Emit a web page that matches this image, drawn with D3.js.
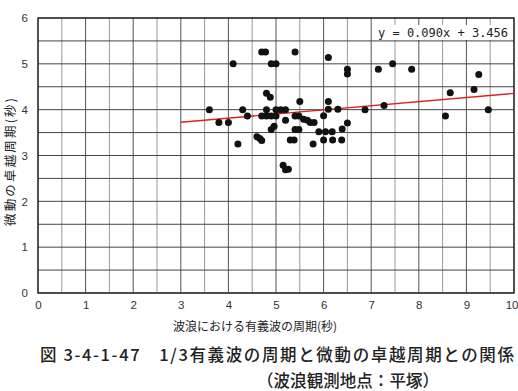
<!DOCTYPE html>
<html><head><meta charset="utf-8">
<script src="https://cdn.jsdelivr.net/npm/d3@7"></script>
<style>
body{margin:0;background:#fff;}
svg{display:block;}
.tick text{font-family:"Liberation Sans",Arial,sans-serif;font-size:11.5px;fill:#333;}
</style></head>
<body><svg id="c" width="518" height="391"></svg>
<script>
const xVals = [3.6,3.8,4.0,4.1,4.2,4.3,4.4,4.6,4.66,4.7,4.7,4.78,4.8,4.88,4.9,5.0,4.7,4.8,4.9,5.0,4.8,5.0,5.1,5.2,4.9,4.96,5.2,5.15,5.2,5.26,5.3,5.38,5.4,5.5,5.4,5.48,5.58,5.66,5.72,5.8,5.4,5.48,5.78,5.9,6.04,6.18,6.0,6.19,6.38,6.0,6.1,6.1,6.3,6.1,6.5,6.5,6.5,6.39,6.87,7.15,7.45,7.85,7.27,8.56,8.66,9.16,9.26,9.46];
const yVals = [4.0,3.72,3.72,5.0,3.25,4.0,3.86,3.41,3.37,3.33,5.26,5.26,4.36,4.27,5.0,5.0,3.86,3.86,3.86,3.86,4.0,4.0,4.0,4.0,3.57,3.64,3.77,2.79,2.69,2.7,3.34,3.34,5.26,4.18,3.86,3.86,3.79,3.77,3.72,3.72,3.57,3.57,3.25,3.52,3.52,3.52,3.34,3.34,3.34,3.87,4.18,4.01,4.01,5.14,4.88,4.78,3.71,3.58,4.0,4.88,5.0,4.88,4.09,3.86,4.37,4.44,4.77,4.0];
const xTicks = [0,1,2,3,4,5,6,7,8,9,10];
const yTicks = [0,1,2,3,4,5,6];
const slope = 0.090, intercept = 3.456;
const fitRange = [3,10];
const eqLabel = "y = 0.090x + 3.456";
const xTitle = "波浪における有義波の周期(秒)";
const yTitle = "微動の卓越周期(秒)";
const title1 = "図 3-4-1-47　1/3有義波の周期と微動の卓越周期との関係";
const title2 = "（波浪観測地点：平塚）";

const svg = d3.select("#c");
const L=38, R=514, T=18, B=293;
const x = d3.scaleLinear().domain([0,10]).range([L,R]);
const y = d3.scaleLinear().domain([0,6]).range([B,T]);

const grid = svg.append("g");
const halfX = d3.range(0,10.01,0.5), halfY = d3.range(0,6.01,0.5);
grid.selectAll("line.v").data(halfX).enter().append("line")
  .attr("x1",d=>x(d)).attr("x2",d=>x(d)).attr("y1",T).attr("y2",B)
  .attr("stroke",d=>Number.isInteger(d)?"#555":"#999").attr("stroke-width",1);
grid.selectAll("line.h").data(halfY).enter().append("line")
  .attr("x1",L).attr("x2",R).attr("y1",d=>y(d)).attr("y2",d=>y(d))
  .attr("stroke","#444").attr("stroke-width",1);
svg.append("rect").attr("x",L).attr("y",T).attr("width",R-L).attr("height",B-T)
  .attr("fill","none").attr("stroke","#222").attr("stroke-width",1.3);

const ax = svg.append("g").attr("transform",`translate(0,${B})`)
  .call(d3.axisBottom(x).tickValues(xTicks).tickSize(0).tickPadding(8).tickFormat(d3.format("d")));
ax.select(".domain").remove();
ax.selectAll(".tick").filter(d=>d===10).select("text").attr("text-anchor","end").attr("x",4);
const ay = svg.append("g").attr("transform",`translate(${L},0)`)
  .call(d3.axisLeft(y).tickValues(yTicks).tickSize(0).tickPadding(10).tickFormat(d3.format("d")));
ay.select(".domain").remove();

svg.append("rect").attr("x",374).attr("y",25).attr("width",138).attr("height",15).attr("fill","#fff");
svg.append("text").attr("x",378).attr("y",37).attr("font-family","DejaVu Sans Mono, monospace")
  .attr("font-size",12).attr("fill","#222").text(eqLabel);

svg.append("line").attr("x1",x(fitRange[0])).attr("y1",y(slope*fitRange[0]+intercept))
  .attr("x2",x(fitRange[1])).attr("y2",y(slope*fitRange[1]+intercept))
  .attr("stroke","#e0201e").attr("stroke-width",1.4);

svg.append("g").selectAll("circle").data(xVals.map((v,i)=>[v,yVals[i]])).enter().append("circle")
  .attr("cx",d=>x(d[0])).attr("cy",d=>y(d[1])).attr("r",3.5).attr("fill","#111");

const jp = "'Noto Sans CJK JP', 'Noto Sans', sans-serif";
svg.append("text").attr("x",173).attr("y",331).attr("textLength",164).attr("lengthAdjust","spacing")
  .attr("font-family",jp).attr("font-size",12).attr("fill","#222").text(xTitle);
svg.append("text").attr("transform","translate(15,162) rotate(-90)").attr("text-anchor","middle")
  .attr("textLength",128).attr("lengthAdjust","spacing")
  .attr("font-family",jp).attr("font-size",12.5).attr("fill","#222").text(yTitle);
svg.append("text").attr("x",40).attr("y",361).attr("textLength",474).attr("lengthAdjust","spacing")
  .attr("font-family",jp).attr("font-size",16.5)
  .attr("font-weight",500).attr("fill","#222").text(title1);
svg.append("text").attr("x",257).attr("y",387).attr("textLength",182).attr("lengthAdjust","spacing")
  .attr("font-family",jp).attr("font-size",16.5)
  .attr("font-weight",500).attr("fill","#222").text(title2);
</script></body></html>
